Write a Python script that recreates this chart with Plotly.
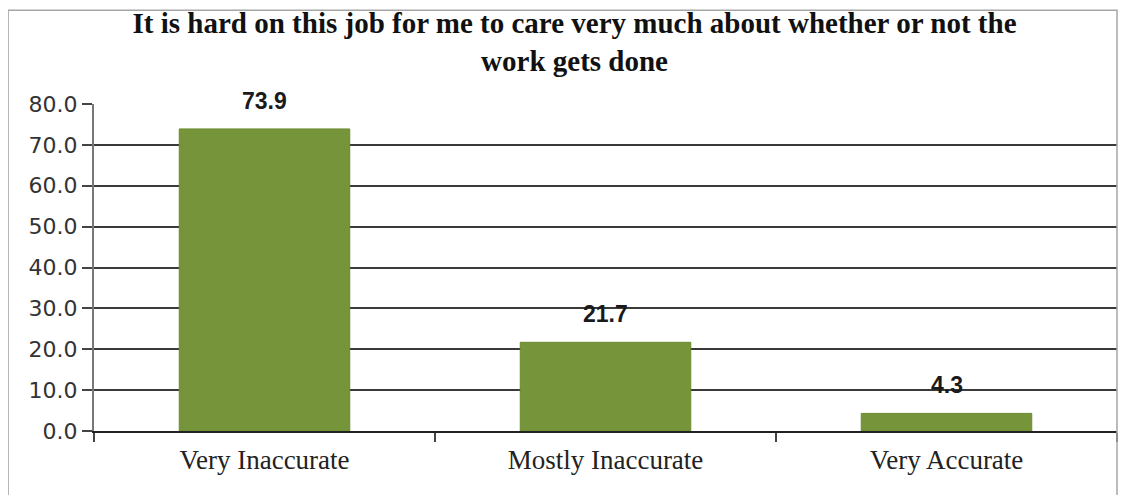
import plotly.graph_objects as go

# data
categories = ["Very Inaccurate", "Mostly Inaccurate", "Very Accurate"]
percentages = [73.9, 21.7, 4.3]
title_text = "It is hard on this job for me to care very much about whether or not the<br>work gets done"

fig = go.Figure()

fig.add_trace(
    go.Bar(
        x=categories,
        y=percentages,
        width=0.5,
        marker=dict(color="#76953a", line=dict(color="#6a8a2e", width=1)),
        showlegend=False,
    )
)

# value labels above the bars
for cat, val in zip(categories, percentages):
    fig.add_annotation(
        x=cat, y=val, text=f"<b>{val:.1f}</b>",
        showarrow=False, yshift=28,
        font=dict(family="Liberation Sans, Arial", size=23, color="#1a1a1a"),
    )

# chart border (the page body adds an 8px offset)
fig.add_shape(
    type="rect", xref="paper", yref="paper",
    x0=-0.084, x1=1.0, y0=-0.3, y1=1.287,
    line=dict(color="#a6a6a6", width=1.5),
)

fig.update_layout(
    width=1125, height=487,
    margin=dict(l=86, r=16, t=96, b=64),
    paper_bgcolor="white", plot_bgcolor="white",
    title=dict(
        text="<b>" + title_text + "</b>",
        x=0.5036, xanchor="center", y=0.948, yanchor="top",
        font=dict(family="Liberation Serif, Times New Roman", size=29, color="#111"),
    ),
    bargap=0.5,
)

fig.update_xaxes(
    showgrid=False,
    showline=True, linecolor="#222", linewidth=2,
    ticks="outside", tickson="boundaries", ticklen=9, tickcolor="#444", tickwidth=2,
    ticklabelstandoff=4,
    tickfont=dict(family="Liberation Serif, Times New Roman", size=27, color="#222"),
)
fig.update_yaxes(
    range=[0, 80], dtick=10, tickformat=".1f",
    showgrid=True, gridcolor="#3a3a3a", gridwidth=1.5,
    showline=True, linecolor="#777", linewidth=2,
    ticks="outside", ticklen=10, tickcolor="#444", tickwidth=1.5,
    tickfont=dict(family="DejaVu Sans, Verdana", size=22, color="#333"),
    zeroline=False,
)

fig.write_html("out.html")
